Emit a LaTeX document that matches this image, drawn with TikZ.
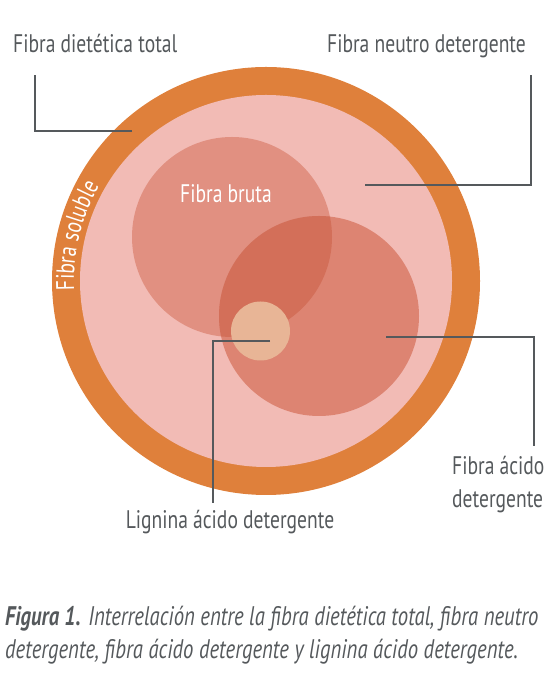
\documentclass[tikz,border=0pt]{standalone}
\usepackage{fontspec}
\setmainfont{PT Sans}[FakeStretch=0.77]
\usetikzlibrary{positioning,decorations.text}
\definecolor{ringor}{HTML}{DF803B}
\definecolor{fndpink}{HTML}{F2BBB5}
\definecolor{fbpink}{HTML}{E19081}
\definecolor{fadpink}{HTML}{DD8472}
\definecolor{ovlpink}{HTML}{D36F59}
\definecolor{ligcol}{HTML}{E8B596}
\definecolor{txtgray}{HTML}{55595C}

\begin{document}
\begin{tikzpicture}[
      x=1bp, y=1bp,
      font=\fontsize{25.5}{30}\selectfont,
      disc/.style={circle, inner sep=0pt, draw=none},
      lbl/.style={text=txtgray, inner sep=0pt},
      lead/.style={draw=txtgray, line width=2bp}
    ]
    \useasboundingbox (0,0) rectangle (558,700);

    % ===== circles =====
    \node[disc, fill=ringor,  minimum size=428bp] (fdt) at (266,419) {};
    \node[disc, fill=fndpink, minimum size=372bp] (fnd) at (fdt.center) {};
    \node[disc, fill=fbpink,  minimum size=200bp] (fb)  at (232,463) {};
    \node[disc, fill=fadpink, minimum size=200bp] (fad) at (319,384) {};
    \begin{scope}
      \clip (fb.center) circle (100);
      \fill[ovlpink] (fad.center) circle (100);
    \end{scope}
    \node[disc, fill=ligcol, minimum size=59bp] (lad) at (260.5,369) {};

    % ===== texts inside =====
    \node[inner sep=0pt, text=white, anchor=base] (fbt) at (226,497) {Fibra bruta};
    \path[decorate, decoration={text along path, text align={center},
        text={|\fontsize{25.5}{30}\selectfont\color{white}|Fibra soluble}}]
      (fdt.center) ++(201:192) arc[start angle=201, end angle=132, radius=192];

    % ===== labels =====
    \node[lbl, anchor=base west] (fdtl) at (13,647) {Fibra dietética total};
    \node[lbl, anchor=base east] (fndl) at (526,647) {Fibra neutro detergente};
    \node[lbl, anchor=base west] (fadl) at (452,225) {Fibra ácido};
    \node[lbl, anchor=base west] (fadl2) at (452,192) {detergente};
    \node[lbl, anchor=base] (ladl) at (230,171) {Lignina ácido detergente};

    % ===== leader lines =====
    \coordinate (fdt-in)  at (132,569);
    \coordinate (fdt-out) at (35,625);
    \coordinate (fnd-in)  at (365,515);
    \coordinate (fnd-out) at (531,625);
    \coordinate (fad-in)  at (386,363);
    \coordinate (fad-out) at (534,254);
    \coordinate (lad-in)  at (270,359);
    \coordinate (lad-out) at (213,197);
    \draw[lead] (fdt-in) -| (fdt-out);
    \draw[lead] (fnd-in) -| (fnd-out);
    \draw[lead] (fad-in) -| (fad-out);
    \draw[lead] (lad-in) -| (lad-out);

    % caption
    \node[lbl, anchor=base west, align=left, font=\fontsize{27}{34}\selectfont\itshape] (cap) at (5,41)
      {\textbf{Figura 1.} Interrelación entre la fibra dietética total, fibra neutro\\
       detergente, fibra ácido detergente y lignina ácido detergente.};
\end{tikzpicture}
\end{document}
